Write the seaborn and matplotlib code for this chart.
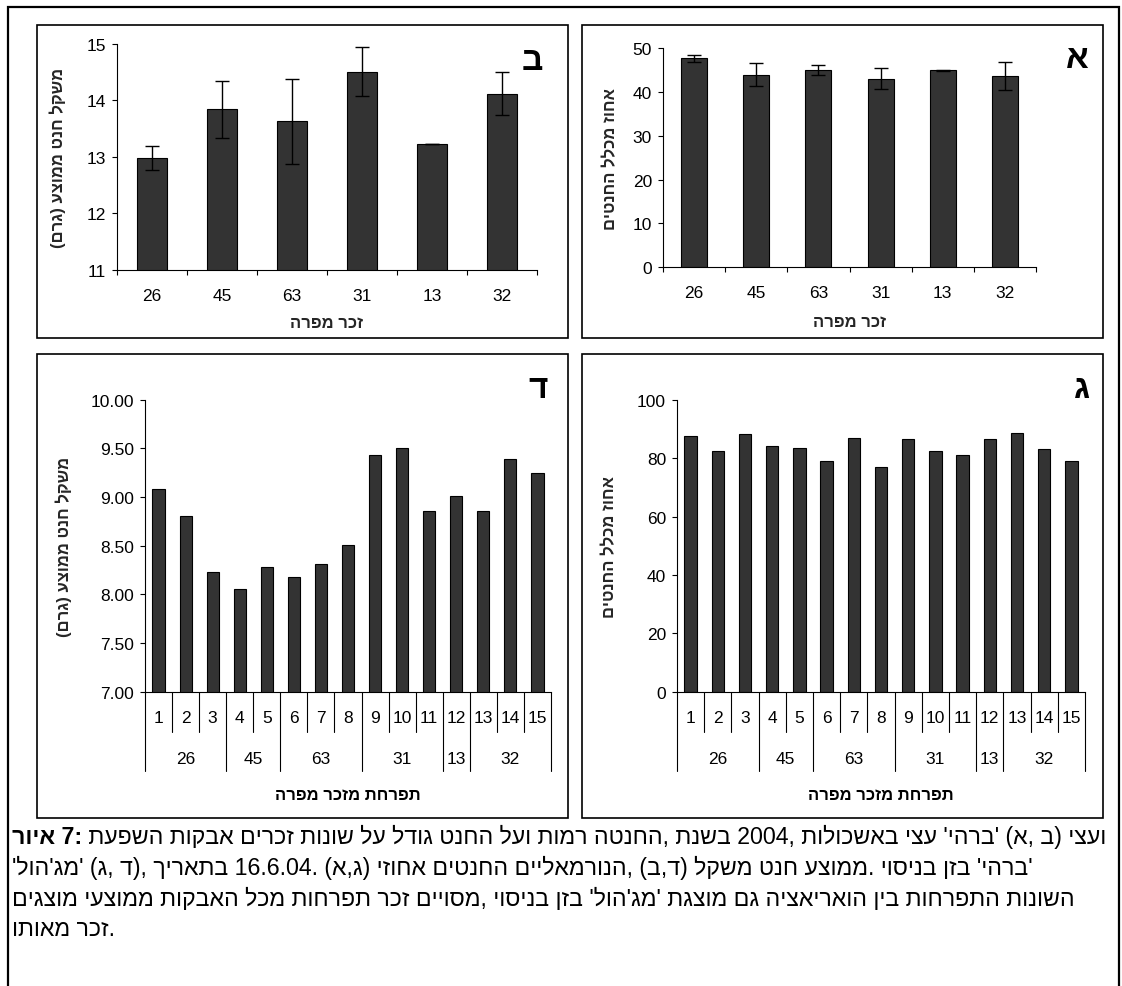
import re
import numpy as np
import pandas as pd
import matplotlib
matplotlib.use("Agg")
import matplotlib.pyplot as plt
import seaborn as sns
from matplotlib.patches import Rectangle
from matplotlib.lines import Line2D

# ---- data -------------------------------------------------------------
males = ["26", "45", "63", "31", "13", "32"]
barhi_normal_pct = [47.7, 44.0, 45.0, 43.0, 45.0, 43.6]
barhi_normal_err = [0.75, 2.6, 1.2, 2.4, 0.1, 3.2]
barhi_weight = [12.98, 13.84, 13.63, 14.51, 13.22, 14.12]
barhi_weight_err = [0.21, 0.50, 0.75, 0.43, 0.0, 0.38]

inflorescence_ids = ["1", "2", "3", "4", "5", "6", "7", "8", "9", "10",
                     "11", "12", "13", "14", "15"]
inflorescence_male = ["26", "26", "26", "45", "45", "63", "63", "63",
                      "31", "31", "31", "13", "32", "32", "32"]
medjool_normal_pct = [87.5, 82.5, 88.1, 84.1, 83.5, 79.1, 87.0, 77.1,
                      86.6, 82.6, 81.0, 86.6, 88.6, 83.2, 79.1]
medjool_weight = [9.08, 8.80, 8.23, 8.06, 8.28, 8.18, 8.31, 8.51,
                  9.43, 9.50, 8.86, 9.01, 8.86, 9.39, 9.25]

ylabel_pct = "אחוז מכלל החנטים"
ylabel_weight = "משקל חנט ממוצע (גרם)"
xlabel_male = "זכר מפרה"
xlabel_infl = "תפרחת מזכר מפרה"

caption_bold = "איור 7:"
caption_lines = [
    " השפעת אבקות זכרים שונות על גודל החנט ועל רמות החנטה, בשנת 2004, באשכולות עצי 'ברהי' (א, ב) ועצי",
    "'מג'הול' (ג, ד), בתאריך 16.6.04. (א,ג) אחוזי החנטים הנורמאליים, (ב,ד) משקל חנט ממוצע. בניסוי בזן 'ברהי'",
    "מוצגים ממוצעי האבקות מכל תפרחות זכר מסויים, בניסוי בזן 'מג'הול' מוצגת גם הואריאציה בין התפרחות השונות",
    "מאותו זכר.",
]

# ---- right-to-left text helpers ----------------------------------------
MIRROR = {"(": ")", ")": "("}
_HEB_WORD = re.compile(r"[\u05D0-\u05EA]+(?:'[\u05D0-\u05EA]+)*")


def rtl(s):
    """Visual order of a Hebrew chart label (right-to-left)."""
    return "".join(MIRROR.get(c, c) for c in reversed(s))


def heb_words(s):
    """Caption text: words kept in reading sequence, letters of each
    Hebrew word laid out right to left."""
    return _HEB_WORD.sub(lambda m: m.group(0)[::-1], s)


# ---- style ------------------------------------------------------------
sns.set_style("ticks")
plt.rcParams["font.family"] = ["Liberation Sans", "DejaVu Sans"]
plt.rcParams["axes.linewidth"] = 0.8
plt.rcParams["xtick.major.width"] = 0.8
plt.rcParams["ytick.major.width"] = 0.8
plt.rcParams["xtick.minor.width"] = 0.8
plt.rcParams["axes.edgecolor"] = "black"
plt.rcParams["xtick.color"] = "black"
plt.rcParams["ytick.color"] = "black"
plt.rcParams["text.color"] = "black"

BAR = "#333333"
FS_TICK = 12.5
FS_LAB = 12

W, H = 1122, 987
fig = plt.figure(figsize=(W / 100, H / 100), dpi=100)
fig.patch.set_facecolor("white")


def px_rect(x0, y0, x1, y1):
    return [x0 / W, 1 - y1 / H, (x1 - x0) / W, (y1 - y0) / H]


def frame(x0, y0, x1, y1, lw=1.2):
    fig.add_artist(Rectangle((x0 / W, 1 - y1 / H), (x1 - x0) / W, (y1 - y0) / H,
                             transform=fig.transFigure, fill=False,
                             edgecolor="black", linewidth=lw))


# outer frame and panel frames
frame(8, 8, 1119, 1000, lw=1.6)
frame(37, 26, 568, 339)
frame(582, 26, 1103, 339)
frame(37, 355, 568, 819)
frame(582, 355, 1103, 819)

df_barhi = pd.DataFrame({"male": males,
                         "normal_pct": barhi_normal_pct,
                         "weight": barhi_weight})
df_medjool = pd.DataFrame({"inflorescence": inflorescence_ids,
                           "male": inflorescence_male,
                           "normal_pct": medjool_normal_pct,
                           "weight": medjool_weight})


def style_axes(ax):
    sns.despine(ax=ax)
    ax.set_facecolor("white")
    ax.tick_params(axis="y", direction="out", length=3.6, pad=4.3,
                   labelsize=FS_TICK)


def set_ylab(ax, col, x):
    ax.set_ylabel(rtl(ylabel_pct if col == "normal_pct" else ylabel_weight),
                  fontsize=FS_LAB, fontweight="bold", rotation=90)
    ax.yaxis.set_label_coords(x, 0.5)
    ax.yaxis.label.set_va("center")
    ax.yaxis.label.set_ha("center")


def male_panel(ax, col, err, ylim, yticks, ylab_x, xlab_y):
    sns.barplot(data=df_barhi, x="male", y=col, order=males, color=BAR,
                saturation=1, width=0.42, edgecolor="black", linewidth=0.8,
                errorbar=None, ax=ax)
    ax.errorbar(np.arange(len(males)), df_barhi[col], yerr=err, fmt="none",
                ecolor="black", elinewidth=1.0, capsize=5, capthick=1.0,
                zorder=5)
    style_axes(ax)
    ax.set_ylim(*ylim)
    ax.set_yticks(yticks)
    ax.set_xlim(-0.5, len(males) - 0.5)
    ax.set_xticks(np.arange(len(males)))
    ax.set_xticklabels(males)
    ax.set_xticks(np.arange(-0.5, len(males)), minor=True)
    ax.tick_params(axis="x", which="major", length=0, pad=13,
                   labelsize=FS_TICK)
    ax.tick_params(axis="x", which="minor", length=3.6, direction="out")
    ax.set_xlabel(rtl(xlabel_male), fontsize=FS_LAB, fontweight="bold")
    ax.xaxis.set_label_coords(0.5, xlab_y)
    ax.xaxis.label.set_va("center")
    set_ylab(ax, col, ylab_x)


def infl_panel(ax, col, ylim, yticks, fmt, ylab_x):
    sns.barplot(data=df_medjool, x="inflorescence", y=col,
                order=inflorescence_ids, color=BAR, saturation=1, width=0.45,
                edgecolor="black", linewidth=0.8, errorbar=None, ax=ax)
    style_axes(ax)
    ax.set_ylim(*ylim)
    ax.set_yticks(yticks)
    ax.set_yticklabels([fmt.format(v) for v in yticks])
    n = len(inflorescence_ids)
    ax.set_xlim(-0.5, n - 0.5)
    ax.set_xticks([])
    ax.set_xlabel("")
    trans = ax.get_xaxis_transform()
    h = 292.0  # axes height in pixels

    def below(px):
        return -px / h

    # inflorescence numbers and the separators between them
    for i, lab in enumerate(inflorescence_ids):
        ax.text(i, below(25.5), lab, transform=trans, ha="center",
                va="center", fontsize=FS_TICK, clip_on=False)
    males_seq = list(df_medjool["male"])
    bounds = [-0.5] + [i + 0.5 for i in range(n - 1)
                       if males_seq[i] != males_seq[i + 1]] + [n - 0.5]
    for k in range(n + 1):
        x = k - 0.5
        depth = 79.5 if x in bounds else 40.5
        ax.add_line(Line2D([x, x], [0, below(depth)], transform=trans,
                           color="black", linewidth=0.8, clip_on=False))
    # male groups
    for a, b in zip(bounds[:-1], bounds[1:]):
        ax.text((a + b) / 2, below(66.5), males_seq[int(a + 0.5)],
                transform=trans, ha="center", va="center",
                fontsize=FS_TICK, clip_on=False)
    ax.text(0.5, below(102.5), rtl(xlabel_infl), transform=ax.transAxes,
            ha="center", va="center", fontsize=FS_LAB, fontweight="bold")
    set_ylab(ax, col, ylab_x)


ax_b = fig.add_axes(px_rect(117, 45, 537, 270.7))
ax_a = fig.add_axes(px_rect(663, 49.3, 1036, 268))
ax_d = fig.add_axes(px_rect(145, 400.7, 551, 692.7))
ax_g = fig.add_axes(px_rect(677, 400.7, 1085, 692.7))

male_panel(ax_b, "weight", barhi_weight_err, (11, 15), [11, 12, 13, 14, 15],
           -0.14, -0.232)
male_panel(ax_a, "normal_pct", barhi_normal_err, (0, 50),
           [0, 10, 20, 30, 40, 50], -0.14, -0.25)
infl_panel(ax_d, "weight", (7, 10), [7.0, 7.5, 8.0, 8.5, 9.0, 9.5, 10.0],
           "{:.2f}", -0.2)
infl_panel(ax_g, "normal_pct", (0, 100), [0, 20, 40, 60, 80, 100],
           "{:.0f}", -0.165)

# panel letters
for letter, (x, y) in {"א": (1077, 60), "ב": (532, 62),
                       "ג": (1082, 390), "ד": (538, 390)}.items():
    fig.text(x / W, 1 - y / H, letter, fontsize=24, fontweight="bold",
             ha="center", va="center")

# caption
renderer = fig.canvas.get_renderer()
x0 = 12
line_y = [837, 868, 899, 930]
fs = 14.0
tb = fig.text(x0 / W, 1 - line_y[0] / H, heb_words(caption_bold),
              fontsize=fs, fontweight="bold", va="center", ha="left")
tr = fig.text(0, 1 - line_y[0] / H, heb_words(caption_lines[0]),
              fontsize=fs, va="center", ha="left")
w_b = tb.get_window_extent(renderer).width
w_r = tr.get_window_extent(renderer).width
fs = fs * 1100.0 / (w_b + w_r)
tb.set_fontsize(fs)
tr.set_fontsize(fs)
w_b = tb.get_window_extent(renderer).width
tr.set_x((x0 + w_b) / W)
for txt, y in zip(caption_lines[1:], line_y[1:]):
    fig.text(x0 / W, 1 - y / H, heb_words(txt), fontsize=fs,
             va="center", ha="left")

fig.savefig("out.png", dpi=100, facecolor="white")
